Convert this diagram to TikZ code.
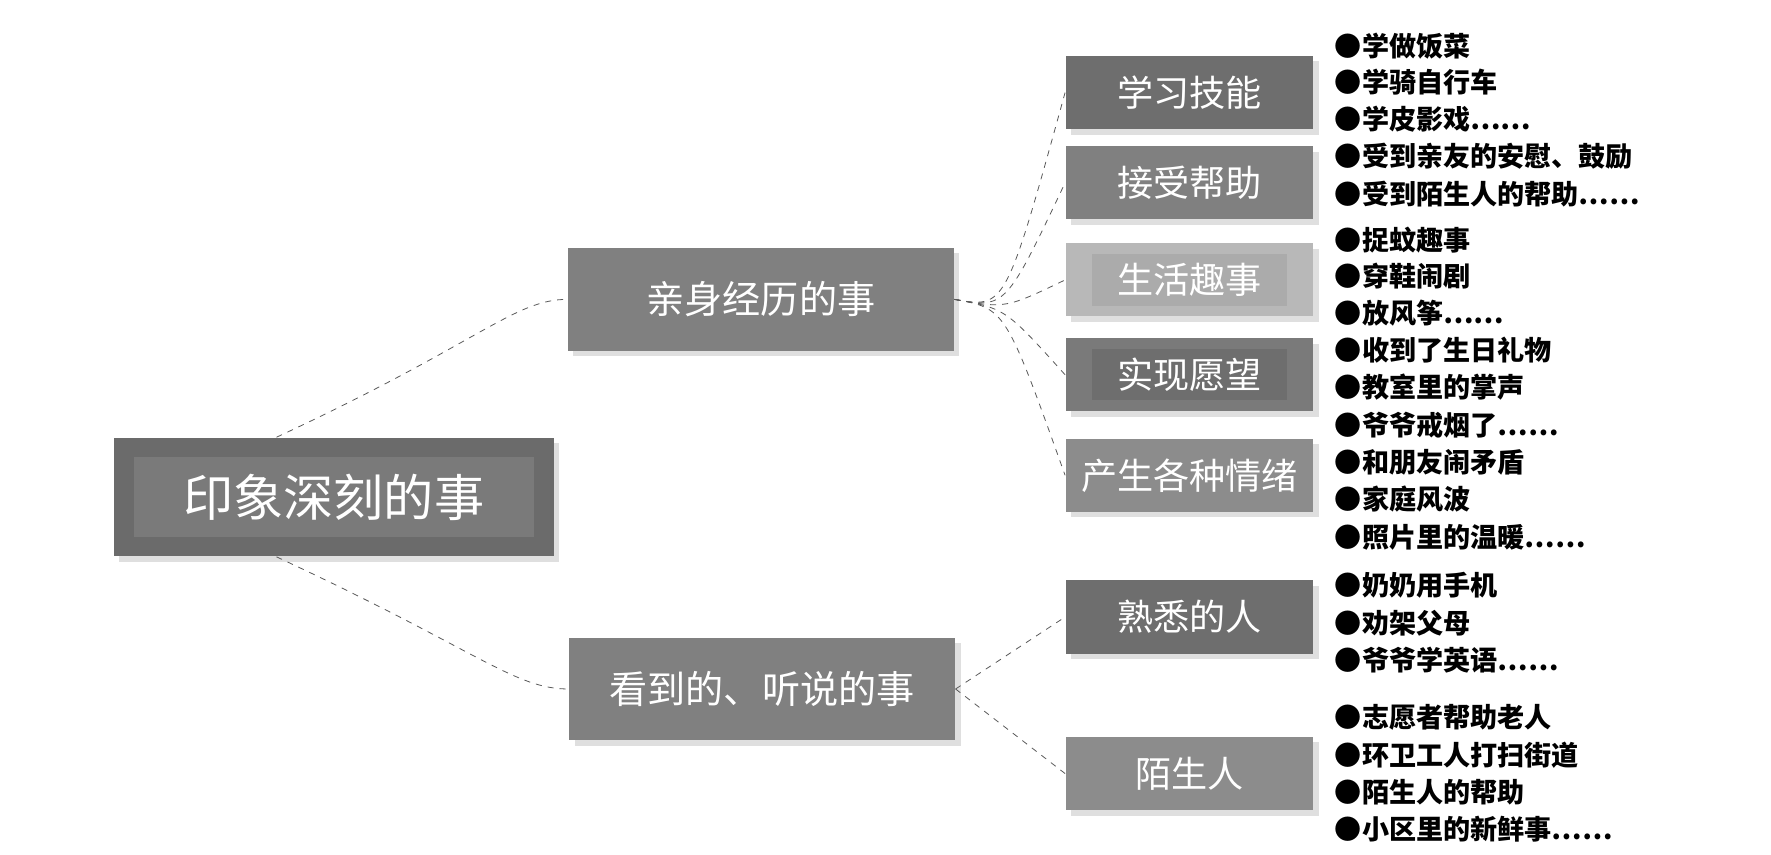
\documentclass[tikz,border=0pt]{standalone}
\usepackage{fontspec}
\setmainfont{Noto Sans CJK SC}
\usetikzlibrary{positioning,shadows}

\tikzset{
  topic/.style={rectangle,minimum width=6.76cm,minimum height=1.8cm,text=white,font=\fontsize{19}{22}\selectfont,drop shadow={opacity=0.25}},
  sub/.style={rectangle,minimum width=4.34cm,minimum height=1.28cm,text=white,font=\fontsize{18}{21}\selectfont,drop shadow={opacity=0.25}},
  item/.style={anchor=west,inner sep=0pt,font=\fontsize{13.5}{15}\selectfont\bfseries},
  link/.style={dashed,gray!70!black,thin}
}

\begin{document}
\begin{tikzpicture}[x=0.02cm,y=-0.02cm]
  \useasboundingbox (0,0) rectangle (1550,748);

  % root
  \node[rectangle,fill=black!58,minimum width=7.7cm,minimum height=2.08cm,drop shadow={opacity=0.25}] (root) at (292,435) {};
  \node[rectangle,fill=black!52,minimum width=7cm,minimum height=1.4cm,text=white,font=\fontsize{25}{28}\selectfont] (roottxt) at (292,435) {印象深刻的事};

  % second level
  \node[topic,fill=black!50] (self) at (666,262) {亲身经历的事};
  \node[topic,fill=black!50] (seen) at (667,603) {看到的、听说的事};

  % third level
  \node[sub,fill=black!57] (skill) at (1041,81) {学习技能};
  \node[sub,fill=black!50] (help) at (1041,160) {接受帮助};
  \node[sub,fill=black!28] (fun) at (1041,245) {};
  \node[rectangle,fill=black!33,minimum width=3.4cm,minimum height=0.9cm,text=white,font=\fontsize{18}{21}\selectfont] (funtxt) at (1041,245) {生活趣事};
  \node[sub,fill=black!52] (wish) at (1041,328) {};
  \node[rectangle,fill=black!57,minimum width=3.4cm,minimum height=0.9cm,text=white,font=\fontsize{18}{21}\selectfont] (wishtxt) at (1041,328) {实现愿望};
  \node[sub,fill=black!45] (mood) at (1041,416) {产生各种情绪};
  \node[sub,fill=black!57] (known) at (1041,540) {熟悉的人};
  \node[sub,fill=black!45] (stranger) at (1041,677) {陌生人};

  % connectors
  \draw[link] (root.north) ++(-50,0) coordinate (r1) .. controls (420,300) and (450,262) .. (self.west);
  \draw[link] (root.south) ++(-50,0) coordinate (r2) .. controls (420,570) and (450,603) .. (seen.west);
  \foreach \t in {skill,help,fun,wish,mood}
    \draw[link] (self.east) .. controls (880,270) .. (\t.west);
  \foreach \t in {known,stranger}
    \draw[link] (seen.east) -- (\t.west);

  % items
  \foreach \y/\s in {40/学做饭菜,72/学骑自行车,104/学皮影戏……,137/受到亲友的安慰、鼓励,170/受到陌生人的帮助……,
                     210/捉蚊趣事,242/穿鞋闹剧,274/放风筝……,306/收到了生日礼物,339/教室里的掌声,372/爷爷戒烟了……,
                     405/和朋友闹矛盾,437/家庭风波,470/照片里的温暖……,512/奶奶用手机,545/劝架父母,578/爷爷学英语……,
                     628/志愿者帮助老人,661/环卫工人打扫街道,693/陌生人的帮助,726/小区里的新鲜事……}
    \node[item] at (1168,\y) {●\s};
\end{tikzpicture}
\end{document}
